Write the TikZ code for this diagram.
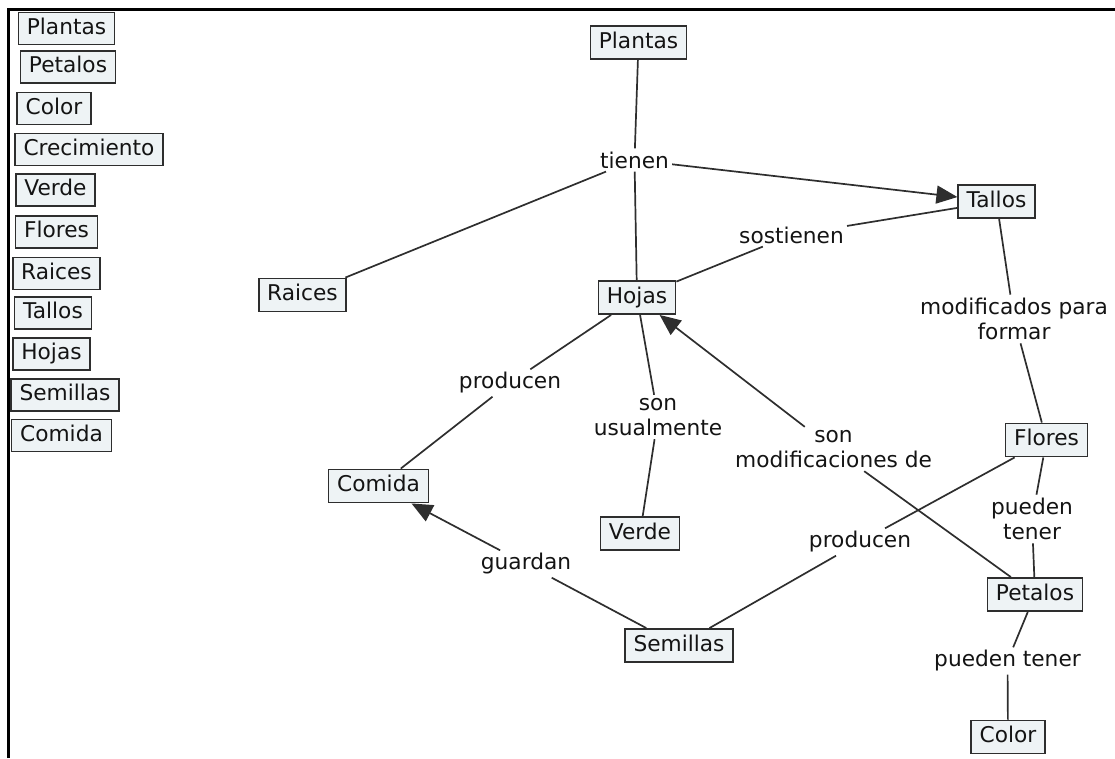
\documentclass[tikz,border=0pt]{standalone}
\usepackage{fontspec}
\setmainfont{DejaVu Sans}
\usetikzlibrary{arrows.meta}
\definecolor{concept-fill}{HTML}{EEF3F5}
\definecolor{line-gray}{HTML}{2E2E2E}

\begin{document}
\begin{tikzpicture}[x=1pt, y=-1pt,
        every node/.style={font=\fontsize{21.7}{25.5}\selectfont, text=black!92},
        concept/.style={draw=line-gray, fill=concept-fill, line width=1.6pt,
          inner xsep=8.5pt, inner ysep=6pt, text height=16.3pt, text depth=5pt},
        item/.style={concept, inner ysep=5.3pt},
        linking/.style={align=center, inner sep=3pt},
        link/.style={draw=line-gray, line width=1.7pt},
        arrow/.style={link, -{Triangle[length=21pt, width=18pt]}}]
      \useasboundingbox (0,0) rectangle (1115,758);
      % frame
      \draw[line width=3.5pt, black] (8.5,758) -- (8.5,9.5) -- (1115,9.5);
      % list of concepts
      \node[item] (l-plantas) at (66.5,28.5) {Plantas};
      \node[item] (l-petalos) at (68,67) {Petalos};
      \node[item] (l-color) at (54,108.5) {Color};
      \node[item] (l-crec) at (89,149.5) {Crecimiento};
      \node[item] (l-verde) at (55.5,190) {Verde};
      \node[item] (l-flores) at (56.5,232) {Flores};
      \node[item] (l-raices) at (56.5,273.5) {Raices};
      \node[item] (l-tallos) at (53,313) {Tallos};
      \node[item] (l-hojas) at (51.5,354) {Hojas};
      \node[item] (l-semillas) at (65,395) {Semillas};
      \node[item] (l-comida) at (61.5,435.5) {Comida};
      % concepts
      \node[concept] (plantas) at (638.5,42.5) {Plantas};
      \node[concept] (tallos) at (996.5,201.5) {Tallos};
      \node[concept] (raices) at (302.5,295) {Raices};
      \node[concept] (hojas) at (637,297.5) {Hojas};
      \node[concept] (comida) at (378.5,486) {Comida};
      \node[concept] (verde) at (640,533.5) {Verde};
      \node[concept] (semillas) at (679,645.5) {Semillas};
      \node[concept] (flores) at (1046.5,440) {Flores};
      \node[concept] (petalos) at (1035,594.5) {Petalos};
      \node[concept] (color) at (1008,737) {Color};
      % linking phrases
      \node[linking] (tienen) at (634.5,160) {tienen};
      \node[linking] (sostienen) at (791.5,235) {sostienen};
      \node[linking] (producen-h) at (510,383) {producen};
      \node[linking] (usualmente) at (658,417) {son\\usualmente};
      \node[linking] (modif-de) at (833.5,449) {son\\modificaciones de};
      \node[linking] (modif-para) at (1014,319) {modificados para\\formar};
      \node[linking] (tener-f) at (1032,519) {pueden\\tener};
      \node[linking] (tener-p) at (1007.5,661) {pueden tener};
      \node[linking] (producen-f) at (860,542) {producen};
      \node[linking] (guardan) at (526,564) {guardan};
      % connectors
      \draw[link] (plantas) -- (tienen);
      \draw[arrow] (tienen) -- (tallos);
      \draw[link] (tienen) -- (raices);
      \draw[link] (tienen) -- (hojas);
      \draw[link] (hojas) -- (sostienen);
      \draw[link] (sostienen) -- (tallos);
      \draw[link] (hojas) -- (producen-h);
      \draw[link] (producen-h) -- (comida);
      \draw[link] (hojas) -- (usualmente);
      \draw[link] (usualmente) -- (verde);
      \draw[link] (petalos) -- (modif-de);
      \draw[arrow] (modif-de) -- (hojas);
      \draw[link] (tallos) -- (modif-para);
      \draw[link] (modif-para) -- (flores);
      \draw[link] (flores) -- (tener-f);
      \draw[link] (tener-f) -- (petalos);
      \draw[link] (petalos) -- (tener-p);
      \draw[link] (tener-p) -- (color);
      \draw[link] (flores) -- (producen-f);
      \draw[link] (producen-f) -- (semillas);
      \draw[link] (semillas) -- (guardan);
      \draw[arrow] (guardan) -- (comida);
    \end{tikzpicture}
\end{document}
